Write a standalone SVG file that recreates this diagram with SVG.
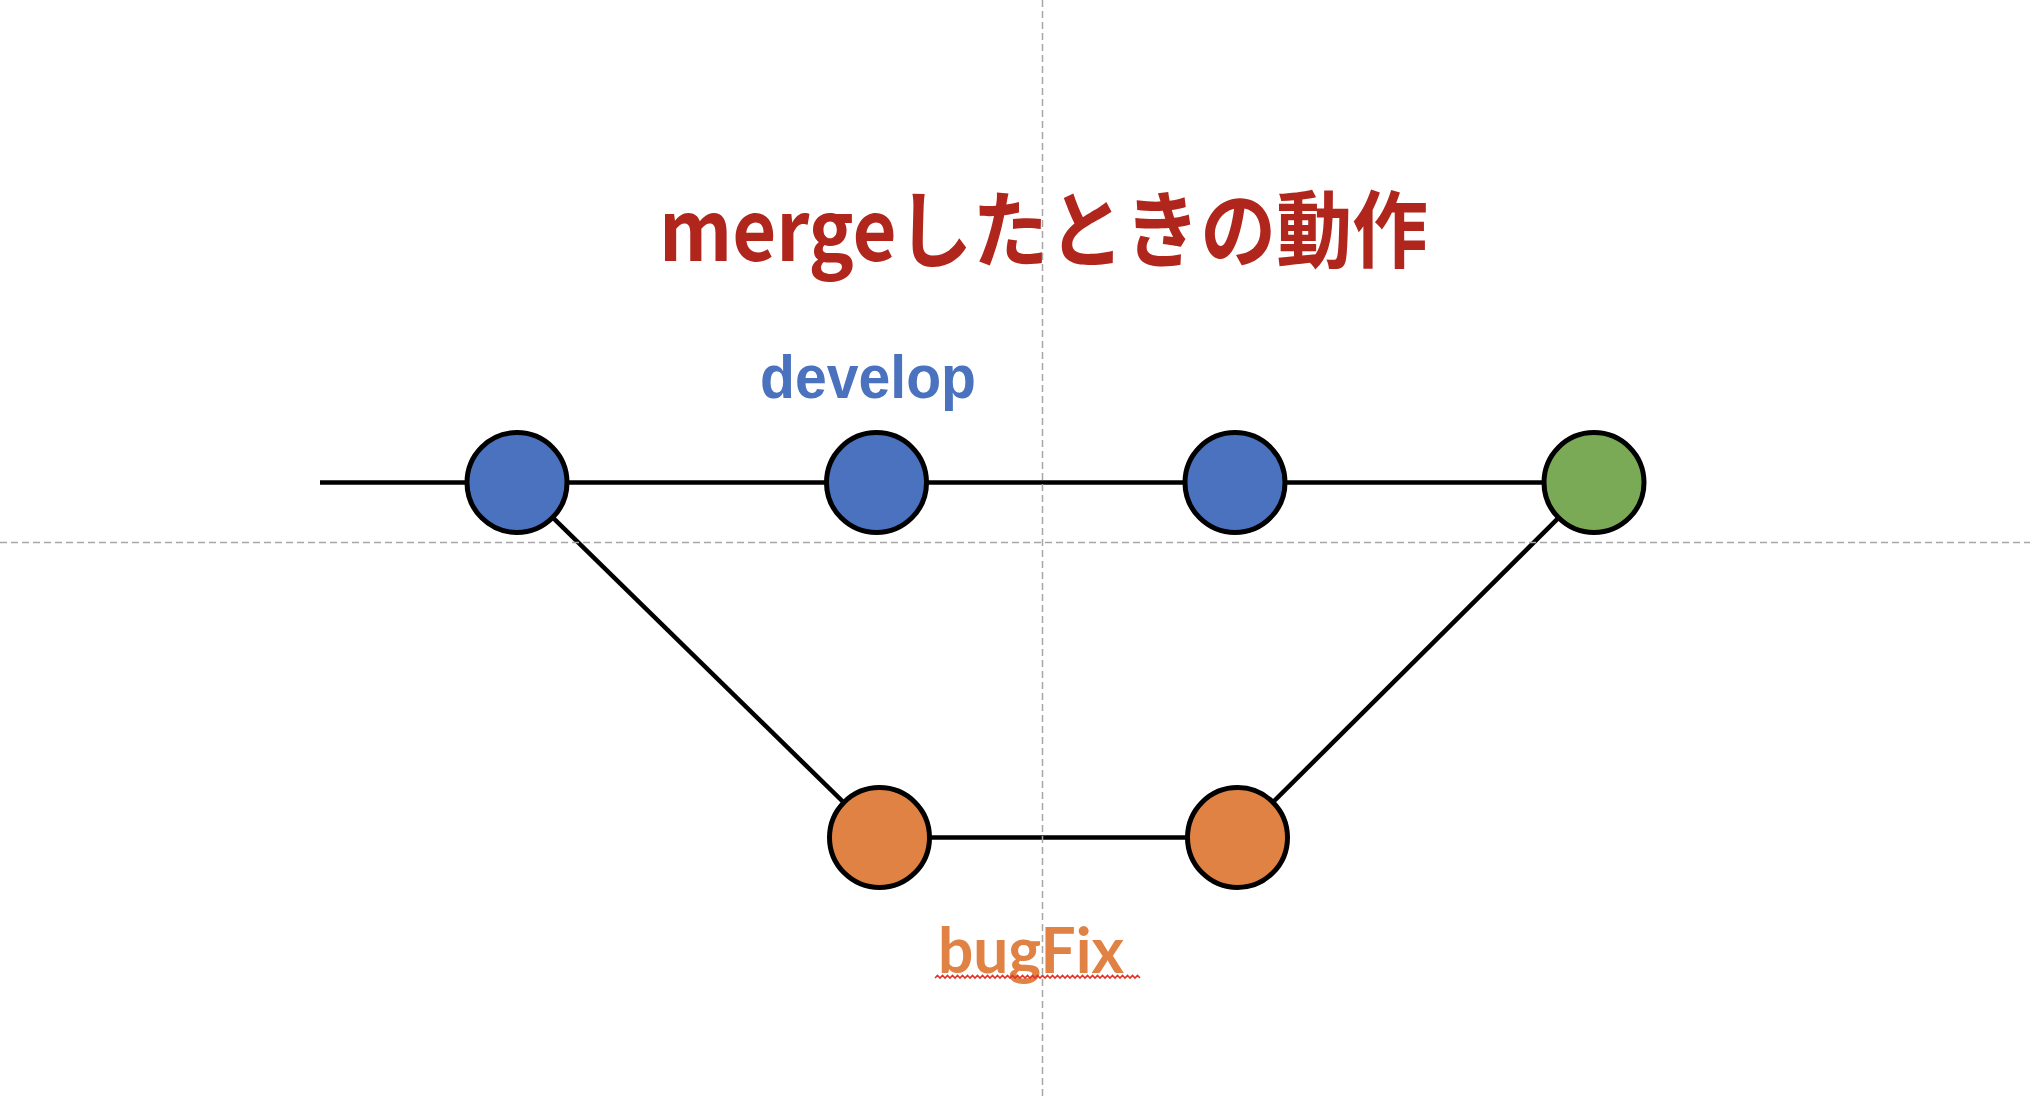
<svg xmlns="http://www.w3.org/2000/svg" width="2030" height="1098" viewBox="0 0 2030 1098">
<style>
.node{stroke:#000;stroke-width:5}
.blue{fill:#4A72BE}
.orange{fill:#E08244}
.green{fill:#7AAA55}
.edge{stroke:#000;stroke-width:4.5;fill:none}
.guide{stroke:#A6A6A6;stroke-width:1.5;stroke-dasharray:7 4;fill:none}
.title{font-family:"Noto Sans CJK JP","Noto Sans",sans-serif;font-weight:bold;fill:#B0261C}
.lbl{font-weight:bold}
</style>
<rect width="2030" height="1098" fill="#fff"/>
<g id="connectors">
<line class="edge" x1="320" y1="482.5" x2="1594" y2="482.5"/>
<line class="edge" x1="517" y1="482.5" x2="879.5" y2="837.5"/>
<line class="edge" x1="879.5" y1="837.5" x2="1237.5" y2="837.5"/>
<line class="edge" x1="1237.5" y1="837.5" x2="1594" y2="482.5"/>
</g>
<g id="title"><text class="title" x="659" y="261" font-size="84" textLength="769" lengthAdjust="spacingAndGlyphs">mergeしたときの動作</text></g>
<g id="label-develop"><text class="lbl" x="760" y="398" font-family="'Liberation Sans',Arial,sans-serif" font-size="62" fill="#4A72BE" textLength="216" lengthAdjust="spacingAndGlyphs">develop</text></g>
<g id="label-bugFix"><text class="lbl" x="938" y="973" font-family="Lato,'Open Sans',sans-serif" font-size="64" fill="#E08244" textLength="186" lengthAdjust="spacingAndGlyphs">bugFix</text>
<path d="M935 978 l2.5 -2.5 l2.5 2.5 l2.5 -2.5 l2.5 2.5 l2.5 -2.5 l2.5 2.5 l2.5 -2.5 l2.5 2.5 l2.5 -2.5 l2.5 2.5 l2.5 -2.5 l2.5 2.5 l2.5 -2.5 l2.5 2.5 l2.5 -2.5 l2.5 2.5 l2.5 -2.5 l2.5 2.5 l2.5 -2.5 l2.5 2.5 l2.5 -2.5 l2.5 2.5 l2.5 -2.5 l2.5 2.5 l2.5 -2.5 l2.5 2.5 l2.5 -2.5 l2.5 2.5 l2.5 -2.5 l2.5 2.5 l2.5 -2.5 l2.5 2.5 l2.5 -2.5 l2.5 2.5 l2.5 -2.5 l2.5 2.5 l2.5 -2.5 l2.5 2.5 l2.5 -2.5 l2.5 2.5 l2.5 -2.5 l2.5 2.5 l2.5 -2.5 l2.5 2.5 l2.5 -2.5 l2.5 2.5 l2.5 -2.5 l2.5 2.5 l2.5 -2.5 l2.5 2.5 l2.5 -2.5 l2.5 2.5 l2.5 -2.5 l2.5 2.5 l2.5 -2.5 l2.5 2.5 l2.5 -2.5 l2.5 2.5 l2.5 -2.5 l2.5 2.5 l2.5 -2.5 l2.5 2.5 l2.5 -2.5 l2.5 2.5 l2.5 -2.5 l2.5 2.5 l2.5 -2.5 l2.5 2.5 l2.5 -2.5 l2.5 2.5 l2.5 -2.5 l2.5 2.5 l2.5 -2.5 l2.5 2.5 l2.5 -2.5 l2.5 2.5 l2.5 -2.5 l2.5 2.5 l2.5 -2.5 l2.5 2.5 l2.5 -2.5 l2.5 2.5" fill="none" stroke="#E0342A" stroke-width="1.6"/></g>
<g id="commit-d1"><circle class="node blue" cx="517" cy="482.5" r="50"/></g>
<g id="commit-d2"><circle class="node blue" cx="876.5" cy="482.5" r="50"/></g>
<g id="commit-d3"><circle class="node blue" cx="1235" cy="482.5" r="50"/></g>
<g id="commit-merge"><circle class="node green" cx="1594" cy="482.5" r="50"/></g>
<g id="commit-b1"><circle class="node orange" cx="879.5" cy="837.5" r="50"/></g>
<g id="commit-b2"><circle class="node orange" cx="1237.5" cy="837.5" r="50"/></g>
<g id="guides">
<line class="guide" x1="0" y1="542.5" x2="2030" y2="542.5"/>
<line class="guide" x1="1042.5" y1="0" x2="1042.5" y2="1098"/>
</g>
</svg>
